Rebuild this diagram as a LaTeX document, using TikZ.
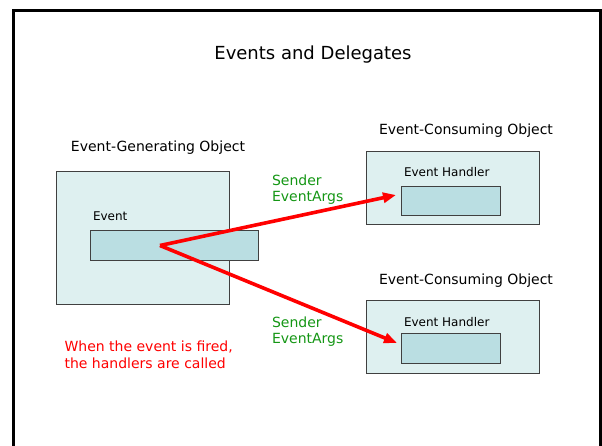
\documentclass[tikz,border=0pt]{standalone}
\usepackage{fontspec}
\setmainfont{DejaVu Sans}
\usetikzlibrary{arrows.meta}
\definecolor{objfill}{RGB}{222,240,240}
\definecolor{slotfill}{RGB}{186,222,226}
\definecolor{argsgreen}{RGB}{20,150,20}
\tikzset{
  objbox/.style={rectangle,draw=black!75,line width=0.8pt,fill=objfill,inner sep=0pt},
  slot/.style={rectangle,draw=black!75,line width=0.8pt,fill=slotfill,inner sep=0pt},
  ttl/.style={font=\fontsize{18}{21}\selectfont,anchor=base},
  lbl/.style={font=\fontsize{14}{16}\selectfont,anchor=base},
  small/.style={font=\fontsize{12}{14}\selectfont,anchor=base west},
  args/.style={font=\fontsize{14}{16}\selectfont,text=argsgreen,anchor=base west,align=left},
  note/.style={font=\fontsize{14}{17}\selectfont,text=red,anchor=base west},
  fire/.style={-{Triangle[length=13pt,width=10pt]},red,line width=3.6pt}
}
\begin{document}
\begin{tikzpicture}[x=1pt,y=-1pt]
    \useasboundingbox (0,0) rectangle (602,446);
    % slide frame (open at the bottom)
    \draw[line width=2.6pt] (13.5,446) -- (13.5,10.5) -- (600.5,10.5) -- (600.5,446);

    \node[ttl] (title) at (313,60) {Events and Delegates};

    % event source
    \node[lbl] (genlbl) at (158,151.5) {Event-Generating Object};
    \node[objbox, minimum width=172.5pt, minimum height=132.5pt] (gen) at (142.75,237.75) {};
    \node[small] (evlbl) at (89.5,221) {Event};
    \node[slot, minimum width=167.3pt, minimum height=30pt] (event) at (174.35,245) {};

    % event consumers
    \node[lbl] (conlbl1) at (466,134.5) {Event-Consuming Object};
    \node[objbox, minimum width=172.3pt, minimum height=73pt] (con1) at (452.85,188.3) {};
    \node[small] (hdllbl1) at (400.5,176.5) {Event Handler};
    \node[slot, minimum width=99pt, minimum height=29.5pt] (hdl1) at (450.5,200.8) {};

    \node[lbl] (conlbl2) at (466,284.5) {Event-Consuming Object};
    \node[objbox, minimum width=172.3pt, minimum height=73pt] (con2) at (452.85,336.5) {};
    \node[small] (hdllbl2) at (400.5,326) {Event Handler};
    \node[slot, minimum width=99pt, minimum height=29.5pt] (hdl2) at (450.5,348.5) {};

    % firing the event
    \coordinate (src) at (160,245.5);
    \coordinate (in1) at (396,195);
    \coordinate (in2) at (397,343);
    \draw[fire] (src) -- (in1);
    \draw[fire] (src) -- (in2);

    % base anchor sits on the last line
    \node[args] (args1) at (268.5,202) {Sender\\EventArgs};
    \node[args] (args2) at (268.5,343) {Sender\\EventArgs};

    \node[note] (note1) at (61,351) {When the event is fired,};
    \node[note] (note2) at (61,368) {the handlers are called};
\end{tikzpicture}
\end{document}
